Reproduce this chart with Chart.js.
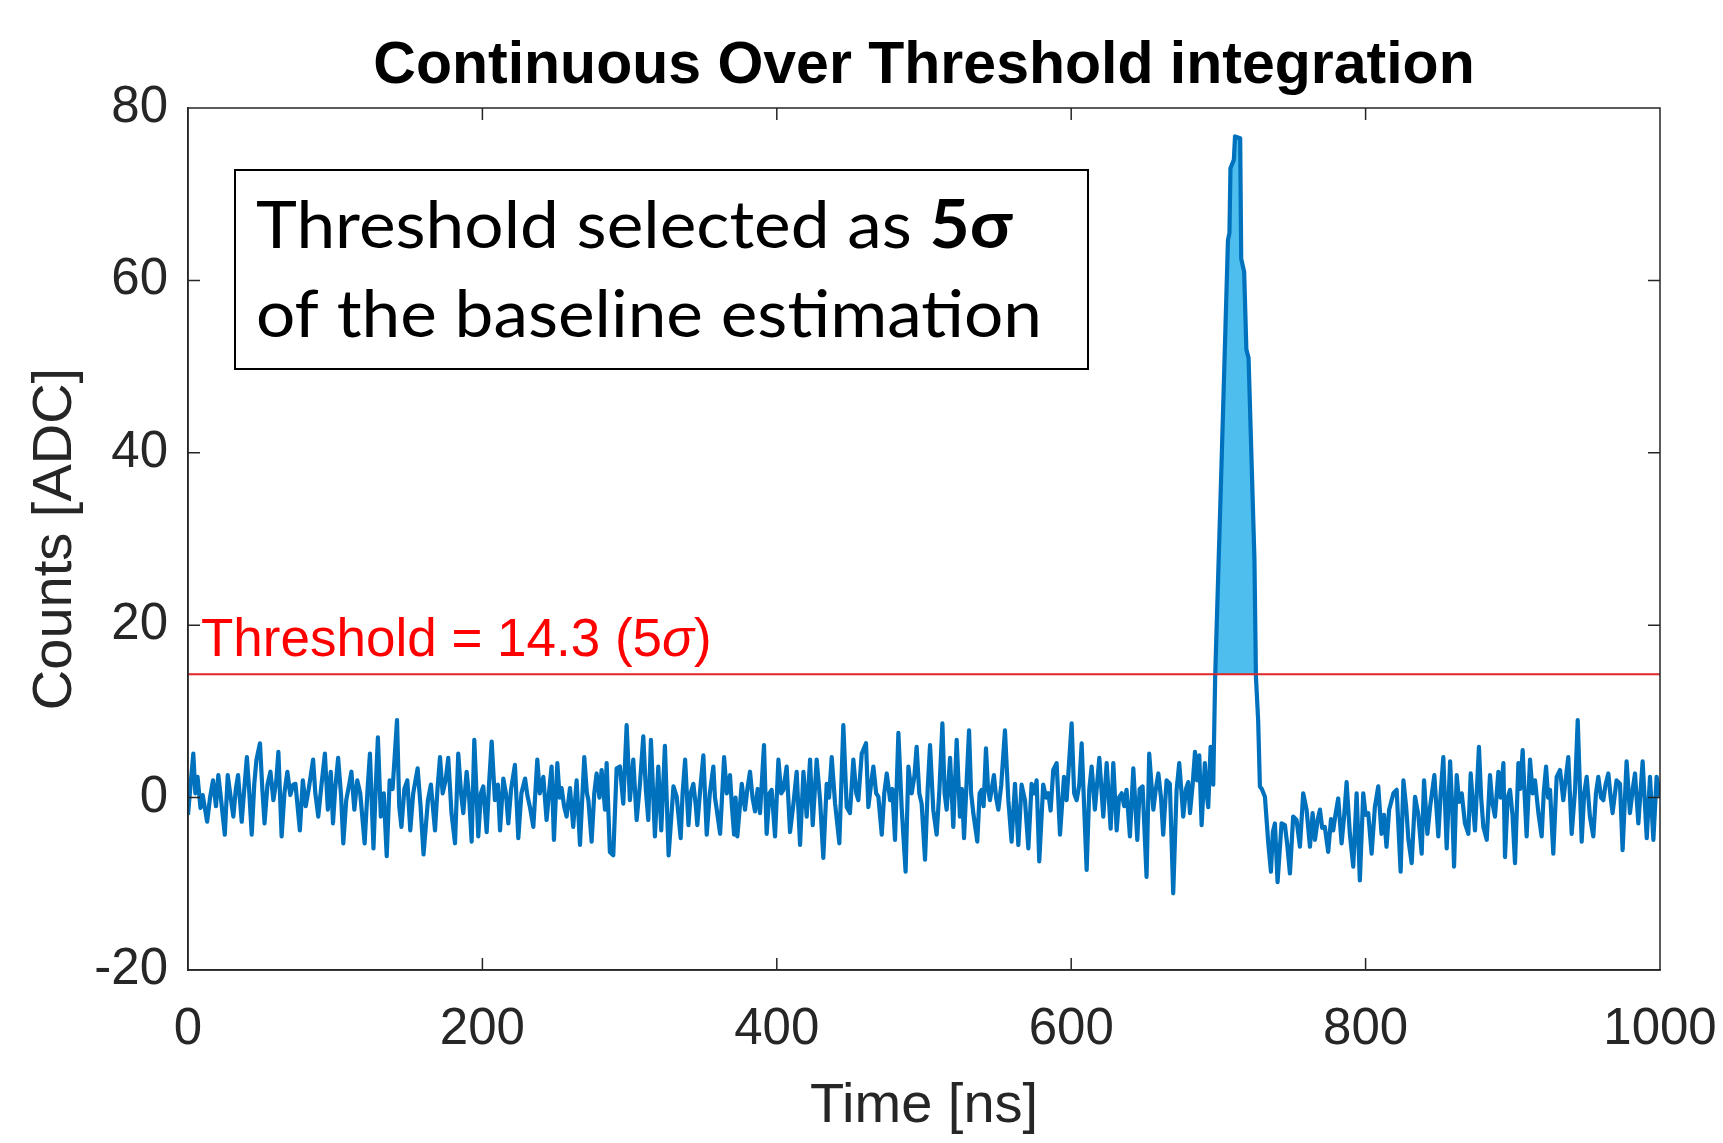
<!DOCTYPE html>
<html>
<head>
<meta charset="utf-8">
<script src="https://cdn.jsdelivr.net/npm/chart.js@4.4.0/dist/chart.umd.min.js"></script>
<style>
  html, body { margin: 0; padding: 0; background: #ffffff; }
  #wrap { width: 1723px; height: 1143px; position: relative; }
</style>
</head>
<body>
<div id="wrap"><canvas id="chart" width="1723" height="1143"></canvas></div>
<script>
// ---------------- DATA ----------------
const titleText = 'Continuous Over Threshold integration';
const xAxisLabel = 'Time [ns]';
const yAxisLabel = 'Counts [ADC]';
const xTickValues = [0, 200, 400, 600, 800, 1000];
const yTickValues = [-20, 0, 20, 40, 60, 80];
const thresholdValue = 14.3;
const thresholdLabelMain = 'Threshold = 14.3 (5';
const thresholdLabelSigma = 'σ';
const thresholdLabelEnd = ')';
const boxLine1Regular = 'Threshold selected as ';
const boxLine1Bold = '5σ';
const boxLine2 = 'of the baseline estimation';

// time of each read turning point of the waveform [ns]
const timeNs = [
  0,1.5,3.6,5,6.5,8.5,10,13,15,17,
  19,20.6,22,25,27,29,30.8,32.5,34,36.5,
  38,40,41.5,43.3,45,46.5,48.9,50.5,52,54,
  56,58,60,61.4,63.6,65.5,67.5,69.5,71.5,73,
  76,78,80,82,85,86.5,88.5,90.5,93,95,
  97,98.5,100,102,104,105.5,107.5,109.5,111,113,
  115,117,120,122,123.6,126,127.5,129,131,133,
  135,137,139,142,143.5,145,147,149,151,153,
  156,158,160,
  163,165,167.8,169.5,171.2,173,175,176.8,179,181.4,
  183.6,185.5,187,189.3,191,192.7,194.5,196,197.2,199,
  200.6,202.9,204.5,206.3,208.5,210.5,212,214.2,216,217.6,
  219.5,222.1,224.4,226.5,229,230.5,232.3,234.6,237.3,239,
  241.4,243.6,245.5,247,248.6,250.9,252.5,253.8,255.5,257.2,
  259.5,261.7,264,266.3,269.2,271,272,274.2,276,277.6,
  279.5,281,283.3,284.4,286.6,288.9,291.2,293.4,295.7,298,
  300.2,302.5,304.8,307,309.3,311,312.7,314.5,316,317.2,
  319.5,321.5,324,326.5,
  329.8,332,334.7,336,337.7,340,341.5,343.3,345,346,
  348,350.1,352.4,354.5,356.9,358,359.2,361.5,364.2,366,
  368.2,369.5,371,372,373.2,376.2,378.4,380,381.8,383.5,
  385.2,387,388.6,391.3,393.1,395,396.5,398.8,401.1,403,
  404.5,406.7,409,411.3,413.5,415.8,418.1,420.3,422.6,424.4,
  427.1,429.4,431.6,433.9,435.5,437.3,439.6,442.5,445.2,447.5,
  449.7,452,454,455.4,457.7,460.6,462.2,464,465.6,467.5,
  469,471.3,473,474.7,477,478.5,480.3,482.6,484.8,487.5,
  489.4,
  491.6,493.5,495,496.8,498.4,500.7,502.5,504.1,506.3,508.6,
  510.5,512.5,514,515.4,517.7,519.9,522.2,524.4,525.8,527.2,
  529,530.6,532,533.5,536.2,537.8,539.2,540.5,542.1,543.5,
  544.8,547.5,549,550.5,552.5,555,557.3,559.5,561.8,564.1,
  566.3,568.6,570.9,573.1,575,576.5,578.3,581,583,584.5,
  586,587.8,590.1,592.4,595.1,596.9,600.3,602,603.7,605.5,
  607.1,610.5,612.3,613.9,616.1,619.1,621.8,624.1,626.8,628.6,
  630.9,632.5,634.3,636,637.6,639.9,642.2,644.9,646.5,648.5,
  651.2,653,
  655.8,657.5,659.2,661,662.5,664.8,667,669.3,671.6,673.4,
  675,676.1,678,679.5,680.7,682.5,684.1,685.5,687,688.6,
  690.8,692,693.1,694.7,696.5,697.8,702,706.5,707.5,708.2,
  710.5,711.3,714.8,715.5,717.5,719,720.5,724.5,725.5,727,
  728.2,729.5,731.6,733.9,735.7,737,738.4,740.2,742.9,745.2,
  746.8,748.6,750.8,753.1,755.4,757.6,759.9,762.2,764,765.6,
  767.5,769,770.5,772.3,774.6,776.5,778,779.5,781.4,783.7,
  785.5,787.1,789.3,791.6,793.9,796.1,798.4,800,801.8,804.1,
  806.3,808.6,810.8,812.5,814.2,816,
  818.9,821.1,823.8,825.7,827.5,829.1,831.3,833.6,835.8,838.1,
  839.7,842,843.8,846.7,849.4,851,852.8,855.1,857.4,858.8,
  860.1,861.9,863.5,865.3,867.5,869.8,871.4,873,874.3,875.5,
  877,878.5,880,882.3,884.5,886,887.9,890.2,891.8,893.6,
  894.7,896.5,898.1,899.8,901.5,903.8,905,906.7,908,909.4,
  911.7,913.5,915.1,917.4,919.6,921,922.6,924,925.3,927.5,
  929.8,932.1,934.3,937.7,940,942.3,944.1,946.8,948.5,950.2,
  952.4,954.7,956.5,958.1,960,961.5,963,964.9,966.5,967.8,
  970.5,972.8,974.6,977.3,979.6,981.5,983,985.3,988.2,991,
  993.2,995.5,997.7,1000
];

// counts at each of those times [ADC]
const countsAdc = [
  -2.0,1.0,5.1,0.5,2.4,-1.2,0.3,-2.8,0.0,2.0,
  -1.0,2.6,0.5,-4.3,2.6,0.0,-2.2,1.0,2.6,-2.8,
  0.5,4.7,1.0,-4.3,1.5,4.4,6.3,1.0,-3.0,1.5,
  3.0,-0.3,2.0,5.3,-4.5,0.5,3.0,0.3,1.5,1.6,
  -3.8,2.0,-1.0,1.0,4.4,0.5,-2.2,1.2,5.1,-1.4,
  3.0,-3.0,1.0,4.6,0.2,-5.3,-0.3,1.5,3.0,-1.4,
  2.0,0.5,-5.3,1.0,5.1,-5.9,1.0,7.0,-2.2,0.5,
  -6.8,2.0,1.0,9.0,-1.0,-3.4,1.0,2.0,-3.8,0.5,
  3.4,-1.0,-6.6,
  -0.3,1.5,-3.8,1.0,4.7,0.5,2.0,4.6,-1.8,-5.3,
  5.1,0.5,-1.8,3.0,0.0,-5.1,6.7,0.5,-4.5,0.5,
  1.3,-4.0,1.5,6.5,-0.3,1.5,-3.8,2.2,0.5,-3.0,
  1.0,3.8,-4.7,0.5,2.2,0.3,-1.1,-3.4,4.4,0.5,
  2.4,-2.6,1.0,3.6,-4.9,4.0,0.0,1.1,-1.0,-2.2,
  1.1,-3.4,2.0,-5.5,4.7,0.5,-0.3,-5.1,0.5,2.8,
  0.0,3.2,-1.4,4.0,-6.3,-6.7,3.4,3.6,-0.7,8.4,
  -0.3,4.4,-2.6,1.5,7.1,1.0,-2.6,6.7,0.5,-4.5,
  3.6,-3.8,6.0,-6.7,
  1.3,0.1,-4.7,0.5,4.4,-3.2,0.5,1.6,-1.0,-3.2,
  1.0,4.9,-4.3,0.5,3.6,0.0,-1.4,-4.2,4.7,0.5,
  2.6,-1.0,-4.3,0.0,-4.5,1.6,-1.4,1.0,3.0,0.0,
  -1.6,1.0,-1.8,6.1,-4.2,0.5,0.9,-4.5,4.4,0.5,
  0.9,3.6,-4.0,-0.7,3.0,-5.5,3.0,-2.2,4.4,-3.2,
  4.4,-0.3,-7.0,1.6,0.0,4.7,-0.7,-5.3,8.4,-1.1,
  -1.8,4.4,0.5,-0.3,5.1,6.3,-1.1,1.5,3.6,0.5,
  0.1,-4.3,0.5,2.8,-0.3,1.0,-4.9,7.5,-1.1,-8.6,
  3.6,
  0.5,2.5,5.9,0.5,-0.7,-7.2,1.0,6.1,-1.4,-4.3,
  1.0,8.6,0.5,-1.4,4.6,-3.4,6.7,-2.2,1.0,-4.7,
  2.0,7.8,0.5,-1.8,-5.1,0.5,0.9,-1.0,5.7,1.0,
  -0.3,2.6,0.0,-1.4,1.5,7.8,-0.3,-5.1,1.6,-5.5,
  1.5,-0.3,-5.9,1.6,0.5,2.0,-7.4,1.5,0.0,0.5,
  -1.5,3.2,4.0,-4.3,2.4,-0.3,8.6,0.5,-0.3,1.5,
  6.3,-8.4,1.0,3.6,-1.4,4.6,-2.2,4.0,-3.6,4.0,
  -3.8,0.0,0.5,-1.0,0.9,-4.5,3.4,-4.9,1.0,1.3,
  -9.2,5.1,
  -1.4,1.0,2.8,0.0,-4.3,2.0,1.6,-11.1,0.9,4.0,
  0.5,-2.2,1.0,1.8,-1.8,1.5,5.3,2.0,4.9,-3.2,
  4.0,0.5,-1.1,5.9,1.5,14.0,38.0,64.7,65.5,73.0,
  74.0,76.7,76.5,62.5,61.0,52.0,51.0,27.5,14.0,9.0,
  1.3,1.0,0.1,-5.3,-8.6,-4.0,-3.0,-9.8,-3.0,-3.2,
  -5.5,-8.8,-2.2,-2.6,-5.7,0.5,-1.4,-5.7,-1.8,-4.9,
  -2.5,-1.4,-3.5,-3.4,-6.3,-2.5,-3.8,-2.0,-0.1,-5.3,
  -2.0,1.8,-4.2,-8.0,0.5,-9.6,0.5,-2.0,-1.8,-6.5,
  -1.1,1.3,-4.2,-2.0,-5.7,-1.4,
  0.5,0.9,-8.6,2.0,-1.0,-4.9,-7.6,0.1,-2.0,-6.5,
  2.0,-4.2,-1.1,2.6,-4.5,0.5,4.7,-5.9,4.2,-1.0,
  -8.0,2.6,-0.5,0.5,-3.0,-4.2,2.8,-1.0,-3.8,0.5,
  5.9,0.0,-3.4,-4.9,2.6,-0.5,-2.2,3.0,0.0,4.0,
  -6.9,0.0,0.9,-2.0,-7.6,4.0,1.0,5.5,0.5,-4.5,
  4.4,0.5,2.0,-1.8,-4.5,0.5,3.6,0.0,0.9,-6.5,
  2.4,3.2,-0.3,4.7,-4.2,0.9,9.0,-5.1,0.5,2.4,
  -2.2,-4.5,0.5,2.4,0.0,-0.3,1.5,2.8,0.0,-1.8,
  2.0,1.6,-6.1,4.2,-1.8,1.0,2.8,-3.0,4.2,-4.7,
  2.4,-4.9,2.4,0.1
];

// ---------------- STYLE ----------------
const AXIS_COLOR = '#262626';
const SIGNAL_COLOR = '#0072BD';
const FILL_COLOR = '#4DBEEE';
const THRESH_LINE_COLOR = '#E02626';
const THRESH_TEXT_COLOR = '#FF0000';
const SANS = '"Liberation Sans", Arial, Helvetica, sans-serif';
const BOX_FONT = 'Lato, "Open Sans", sans-serif';

const n = Math.min(timeNs.length, countsAdc.length);
const signalPoints = [];
for (let i = 0; i < n; i++) signalPoints.push({ x: timeNs[i], y: countsAdc[i] });
const thresholdPoints = [
  { x: xTickValues[0], y: thresholdValue },
  { x: xTickValues[xTickValues.length - 1], y: thresholdValue }
];

const decorPlugin = {
  id: 'decor',
  afterDraw(chart) {
    const { ctx, chartArea: a, scales } = chart;
    const xs = scales.x, ys = scales.y;
    ctx.save();
    // full box + inward ticks
    ctx.strokeStyle = AXIS_COLOR;
    ctx.lineWidth = 1.5;
    ctx.beginPath();
    ctx.rect(a.left, a.top, a.right - a.left, a.bottom - a.top);
    const TL = 12;
    xTickValues.forEach(v => {
      const px = xs.getPixelForValue(v);
      ctx.moveTo(px, a.bottom); ctx.lineTo(px, a.bottom - TL);
      ctx.moveTo(px, a.top); ctx.lineTo(px, a.top + TL);
    });
    yTickValues.forEach(v => {
      const py = ys.getPixelForValue(v);
      ctx.moveTo(a.left, py); ctx.lineTo(a.left + TL, py);
      ctx.moveTo(a.right, py); ctx.lineTo(a.right - TL, py);
    });
    ctx.stroke();

    // title
    ctx.fillStyle = '#000000';
    ctx.font = 'bold 59px ' + SANS;
    ctx.textAlign = 'center';
    ctx.textBaseline = 'alphabetic';
    ctx.fillText(titleText, (a.left + a.right) / 2, 83);

    // threshold label
    const ty = ys.getPixelForValue(thresholdValue) - 18;
    let tx = xs.getPixelForValue(0) + 13;
    ctx.textAlign = 'left';
    ctx.fillStyle = THRESH_TEXT_COLOR;
    ctx.font = '53px ' + SANS;
    ctx.fillText(thresholdLabelMain, tx, ty);
    tx += ctx.measureText(thresholdLabelMain).width;
    ctx.font = 'italic 53px ' + SANS;
    ctx.fillText(thresholdLabelSigma, tx, ty);
    tx += ctx.measureText(thresholdLabelSigma).width;
    ctx.font = '53px ' + SANS;
    ctx.fillText(thresholdLabelEnd, tx, ty);

    // annotation box
    const bx = a.left + 47, by = a.top + 62, bw = 853, bh = 199;
    ctx.fillStyle = '#ffffff';
    ctx.fillRect(bx, by, bw, bh);
    ctx.strokeStyle = '#000000';
    ctx.lineWidth = 2;
    ctx.strokeRect(bx, by, bw, bh);
    ctx.font = '66px ' + BOX_FONT;
    const w2 = ctx.measureText(boxLine2).width;
    const sx = 786 / w2;
    ctx.save();
    ctx.translate(bx + 21, 0);
    ctx.scale(sx, 1);
    ctx.fillStyle = '#000000';
    ctx.fillText(boxLine1Regular, 0, by + 78);
    const w1 = ctx.measureText(boxLine1Regular).width;
    ctx.font = 'bold 66px ' + BOX_FONT;
    ctx.fillText(boxLine1Bold, w1, by + 78);
    ctx.font = '66px ' + BOX_FONT;
    ctx.fillText(boxLine2, 0, by + 167);
    ctx.restore();
    ctx.restore();
  }
};

new Chart(document.getElementById('chart').getContext('2d'), {
  type: 'line',
  data: {
    datasets: [
      {
        label: 'Threshold',
        data: thresholdPoints,
        borderColor: THRESH_LINE_COLOR,
        borderWidth: 2,
        pointRadius: 0,
        fill: false,
        order: 0
      },
      {
        label: 'Signal',
        data: signalPoints,
        borderColor: SIGNAL_COLOR,
        borderWidth: 4.2,
        borderJoinStyle: 'round',
        pointRadius: 0,
        tension: 0,
        fill: { target: { value: thresholdValue }, above: FILL_COLOR, below: 'rgba(0,0,0,0)' },
        order: 1
      }
    ]
  },
  options: {
    responsive: false,
    animation: false,
    events: [],
    layout: { padding: { top: 108, right: 63, left: 0, bottom: 0 } },
    plugins: { legend: { display: false }, tooltip: { enabled: false }, title: { display: false } },
    scales: {
      x: {
        type: 'linear',
        min: xTickValues[0],
        max: xTickValues[xTickValues.length - 1],
        afterBuildTicks: s => { s.ticks = xTickValues.map(v => ({ value: v })); },
        afterFit: s => { s.height = 173; s.paddingLeft = 0; s.paddingRight = 0; },
        grid: { display: false, drawTicks: false },
        border: { display: true, color: AXIS_COLOR, width: 1.5 },
        ticks: { color: AXIS_COLOR, font: { family: SANS, size: 51 }, padding: 29, maxRotation: 0, autoSkip: false,
                 callback: v => String(v) },
        title: { display: true, text: xAxisLabel, color: AXIS_COLOR, font: { family: SANS, size: 56 }, padding: { top: 0, bottom: 3 } }
      },
      y: {
        type: 'linear',
        min: yTickValues[0],
        max: yTickValues[yTickValues.length - 1],
        afterBuildTicks: s => { s.ticks = yTickValues.map(v => ({ value: v })); },
        afterFit: s => { s.width = 188; },
        grid: { display: false, drawTicks: false },
        border: { display: true, color: AXIS_COLOR, width: 1.5 },
        ticks: { color: AXIS_COLOR, font: { family: SANS, size: 51 }, padding: 20, autoSkip: false,
                 callback: v => String(v) },
        title: { display: true, text: yAxisLabel, color: AXIS_COLOR, font: { family: SANS, size: 56 }, padding: { top: 22, bottom: 0 } }
      }
    }
  },
  plugins: [decorPlugin]
});
</script>
</body>
</html>
